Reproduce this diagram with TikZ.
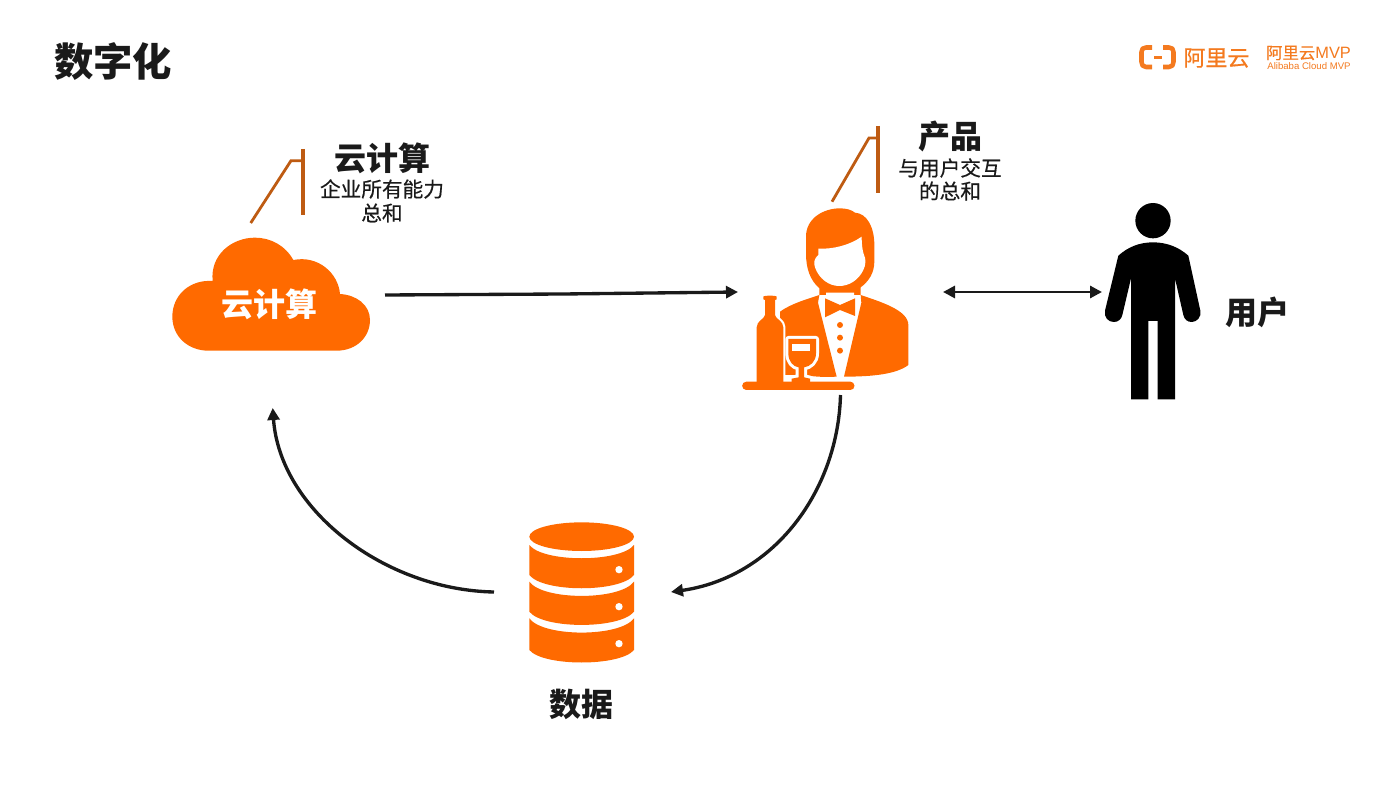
\documentclass[tikz,border=0pt]{standalone}
\usepackage{fontspec}
\setmainfont{Noto Sans CJK SC}[BoldFont={Noto Sans CJK SC Black}]
\newfontfamily\cjkmedium{Noto Sans CJK SC}[FakeBold=0.5]
\newfontfamily\latinlogo{Liberation Sans}
\usetikzlibrary{arrows.meta}
\definecolor{brand}{HTML}{FF6A00}
\definecolor{callout}{HTML}{BE5B12}
\definecolor{ink}{HTML}{1A1A1A}
\definecolor{logoc}{HTML}{F47A1F}
\tikzset{
  x=0.75pt,y=-0.75pt,
  icon/.style={fill=brand,draw=none},
  halo/.style={fill=brand,preaction={draw=white,line width=#1,line join=round}},
  heading/.style={font=\bfseries\fontsize{24}{28}\selectfont,text=ink,inner sep=0pt},
  bodytext/.style={font=\cjkmedium\fontsize{15.5}{18}\selectfont,text=ink,inner sep=0pt},
  flow/.style={draw=ink,line width=2.5pt,-{Triangle[length=9pt,width=9pt]}},
  flowboth/.style={draw=ink,line width=2.2pt,{Triangle[length=9pt,width=9pt]}-{Triangle[length=9pt,width=9pt]}},
  bracket/.style={draw=callout,line width=2.1pt},
  bracketbar/.style={draw=callout,line width=3pt},
}
\begin{document}
\begin{tikzpicture}
\useasboundingbox (0,0) rectangle (1400,788);
\fill[white] (0,0) rectangle (1400,788);

% page title
\node[font=\bfseries\fontsize{29.5}{34}\selectfont,text=ink,inner sep=0pt] (title) at (113,62) {数字化};

% brand mark
\begin{scope}[logoc]
  \draw[line width=3.4pt,line join=round] (1152,47.5) -- (1146,47.5) .. controls (1143,47.5) and (1141.5,49) .. (1141.5,52) -- (1141.5,62) .. controls (1141.5,65) and (1143,67) .. (1146,67) -- (1152,67);
  \draw[line width=3.4pt,line join=round] (1163,47.5) -- (1169,47.5) .. controls (1172,47.5) and (1173.5,49) .. (1173.5,52) -- (1173.5,62) .. controls (1173.5,65) and (1172,67) .. (1169,67) -- (1163,67);
  \draw[line width=1.9pt] (1154,57.5) -- (1162,57.5);
\end{scope}
\node[font=\cjkmedium\fontsize{16.5}{18}\selectfont,text=logoc,inner sep=0pt] (brandcn) at (1216.5,58) {阿里云};
\node[font=\cjkmedium\fontsize{12.3}{14}\selectfont,text=logoc,inner sep=0pt] (brandmvp) at (1308.5,53) {阿里云{\latinlogo MVP}};
\node[font=\latinlogo\fontsize{7.2}{8}\selectfont,text=logoc,inner sep=0pt] (brandsub) at (1309,66) {Alibaba Cloud MVP};

% cloud
\begin{scope}[shift={(160,120)},scale=1/3]
  \path[icon] (145,692) -- (530,692)
    .. controls (590,692) and (630,650) .. (630,600)
    .. controls (630,555) and (590,525) .. (540,522)
    .. controls (535,460) and (475,405) .. (400,420)
    .. controls (375,375) and (330,353) .. (285,353)
    .. controls (215,353) and (150,405) .. (158,483)
    .. controls (90,478) and (37,525) .. (37,590)
    .. controls (37,650) and (85,692) .. (145,692) -- cycle;
\end{scope}
\node[font=\bfseries\fontsize{24}{28}\selectfont,text=white,inner sep=0pt] (cloudlabel) at (269,304) {云计算};

% callout beside the cloud
\draw[bracket] (250.7,223) -- (291,160.7) -- (302.7,160.7);
\draw[bracketbar] (302.7,149) -- (302.7,215);
\node[heading] (cloudhead) at (382,158) {云计算};
\node[bodytext] (cloudtext1) at (382,189) {企业所有能力};
\node[bodytext] (cloudtext2) at (382,213) {总和};

% waiter
\begin{scope}[shift={(730,190)},scale=1/3]
  % hair and neck
  \path[icon] (268,315) -- (268,295)
    .. controls (240,270) and (228,235) .. (228,190)
    -- (228,140) .. controls (228,85) and (280,55) .. (330,55)
    .. controls (350,55) and (365,60) .. (375,68)
    .. controls (410,70) and (433,110) .. (433,165)
    -- (433,215) .. controls (433,250) and (415,275) .. (392,292)
    -- (392,315) -- cycle;
  % face
  \path[fill=white] (265,176)
    .. controls (310,178) and (360,165) .. (395,140)
    .. controls (395,165) and (398,185) .. (402,195)
    .. controls (408,205) and (408,225) .. (400,240)
    .. controls (385,272) and (355,288) .. (328,288)
    .. controls (295,288) and (268,265) .. (256,235)
    .. controls (250,220) and (252,205) .. (265,195) -- cycle;
  % jacket
  \path[icon] (150,365) .. controls (185,340) and (230,328) .. (268,315)
    -- (264,338) -- (320,560) .. controls (280,562) and (250,560) .. (225,555)
    -- (150,555) -- cycle;
  \path[icon] (392,315) .. controls (450,335) and (535,360) .. (535,405)
    -- (535,525) .. controls (500,552) and (430,560) .. (342,560)
    -- (394,338) -- cycle;
  % collar and bow tie
  \path[fill=white] (288,308) -- (372,308) -- (372,325) -- (330,345) -- (288,325) -- cycle;
  \path[icon] (285,325) -- (330,345) -- (375,325) -- (375,378) -- (330,360) -- (285,382) -- cycle;
  \fill[brand] (330,405) circle (9) (330,443) circle (9) (330,482) circle (9);
  % bottle
  \path[halo=3.2pt] (100,320) .. controls (100,316) and (140,316) .. (140,320)
    -- (140,328) -- (135,330) -- (135,375) .. controls (137,388) and (160,392) .. (160,412)
    -- (160,576) -- (80,576) -- (80,412) .. controls (80,392) and (103,388) .. (105,375)
    -- (105,330) -- (100,328) -- cycle;
  % wine glass
  \path[halo=4.5pt] (175,447) -- (258,447) -- (258,490)
    .. controls (258,515) and (240,530) .. (222,532)
    -- (222,562) -- (240,566) -- (240,576) -- (185,576) -- (185,566) -- (206,562) -- (206,532)
    .. controls (190,530) and (175,515) .. (175,490) -- cycle;
  \fill[white] (187,461) rectangle (241,483);
  % tray
  \path[icon] (49,575) -- (361,575) arc (-90:90:12.5) -- (49,600) arc (90:270:12.5) -- cycle;
\end{scope}

% callout above the waiter
\draw[bracket] (832,201.7) -- (869,138) -- (878.3,138);
\draw[bracketbar] (878.3,126) -- (878.3,193);
\node[heading] (producthead) at (950,136) {产品};
\node[bodytext] (producttext1) at (950,168) {与用户交互};
\node[bodytext] (producttext2) at (950,191) {的总和};

% user figure
\begin{scope}[shift={(1090,190)},scale=1/3]
  \fill[black] (189,92) circle (53);
  \fill[black] (85,197) .. controls (115,170) and (150,157) .. (189,157)
    .. controls (228,157) and (265,170) .. (295,197)
    -- (331,362) .. controls (335,382) and (320,396) .. (305,396)
    .. controls (292,396) and (283,388) .. (280,375)
    -- (255,265) -- (255,628) -- (203,628) -- (203,393) -- (175,393) -- (175,628) -- (123,628) -- (123,265)
    -- (97,375) .. controls (94,388) and (85,396) .. (71,396)
    .. controls (55,396) and (41,382) .. (45,362) -- cycle;
\end{scope}
\node[heading] (userlabel) at (1257.5,312) {用户};

% database stack
\begin{scope}[shift={(510,510)},scale=1/3]
  \fill[brand] (215,80) ellipse [x radius=157,y radius=43];
  \path[icon] (58,105) .. controls (100,158) and (330,158) .. (372,105) -- (372,195)
    .. controls (330,248) and (100,248) .. (58,195) -- cycle;
  \path[icon] (58,215) .. controls (100,272) and (330,272) .. (372,215) -- (372,305)
    .. controls (330,358) and (100,358) .. (58,305) -- cycle;
  \path[icon] (58,325) .. controls (100,382) and (330,382) .. (372,325) -- (372,420)
    .. controls (330,470) and (100,470) .. (58,420) -- cycle;
  \fill[white] (327,179) circle (11) (327,290) circle (11) (327,401) circle (11);
\end{scope}
\node[heading] (datalabel) at (581,704) {数据};

% connector anchors
\coordinate (cloudout) at (385,295);
\coordinate (cloudmid) at (563,294);
\coordinate (waiterin) at (738,292);
\coordinate (waiterright) at (943,292);
\coordinate (userleft) at (1102,292);
\coordinate (waiterdown) at (840.5,395);
\coordinate (dataright) at (671,592);
\coordinate (dataleft) at (494,592);
\coordinate (cloudin) at (272.7,408);

% connectors
\draw[flow] (cloudout) -- (cloudmid) -- (waiterin);
\draw[flowboth] (waiterright) -- (userleft);
\draw[flow] (waiterdown) .. controls (838,490) and (775,577) .. (dataright);
\draw[flow] (dataleft) .. controls (385,590) and (280,510) .. (cloudin);
\end{tikzpicture}
\end{document}
